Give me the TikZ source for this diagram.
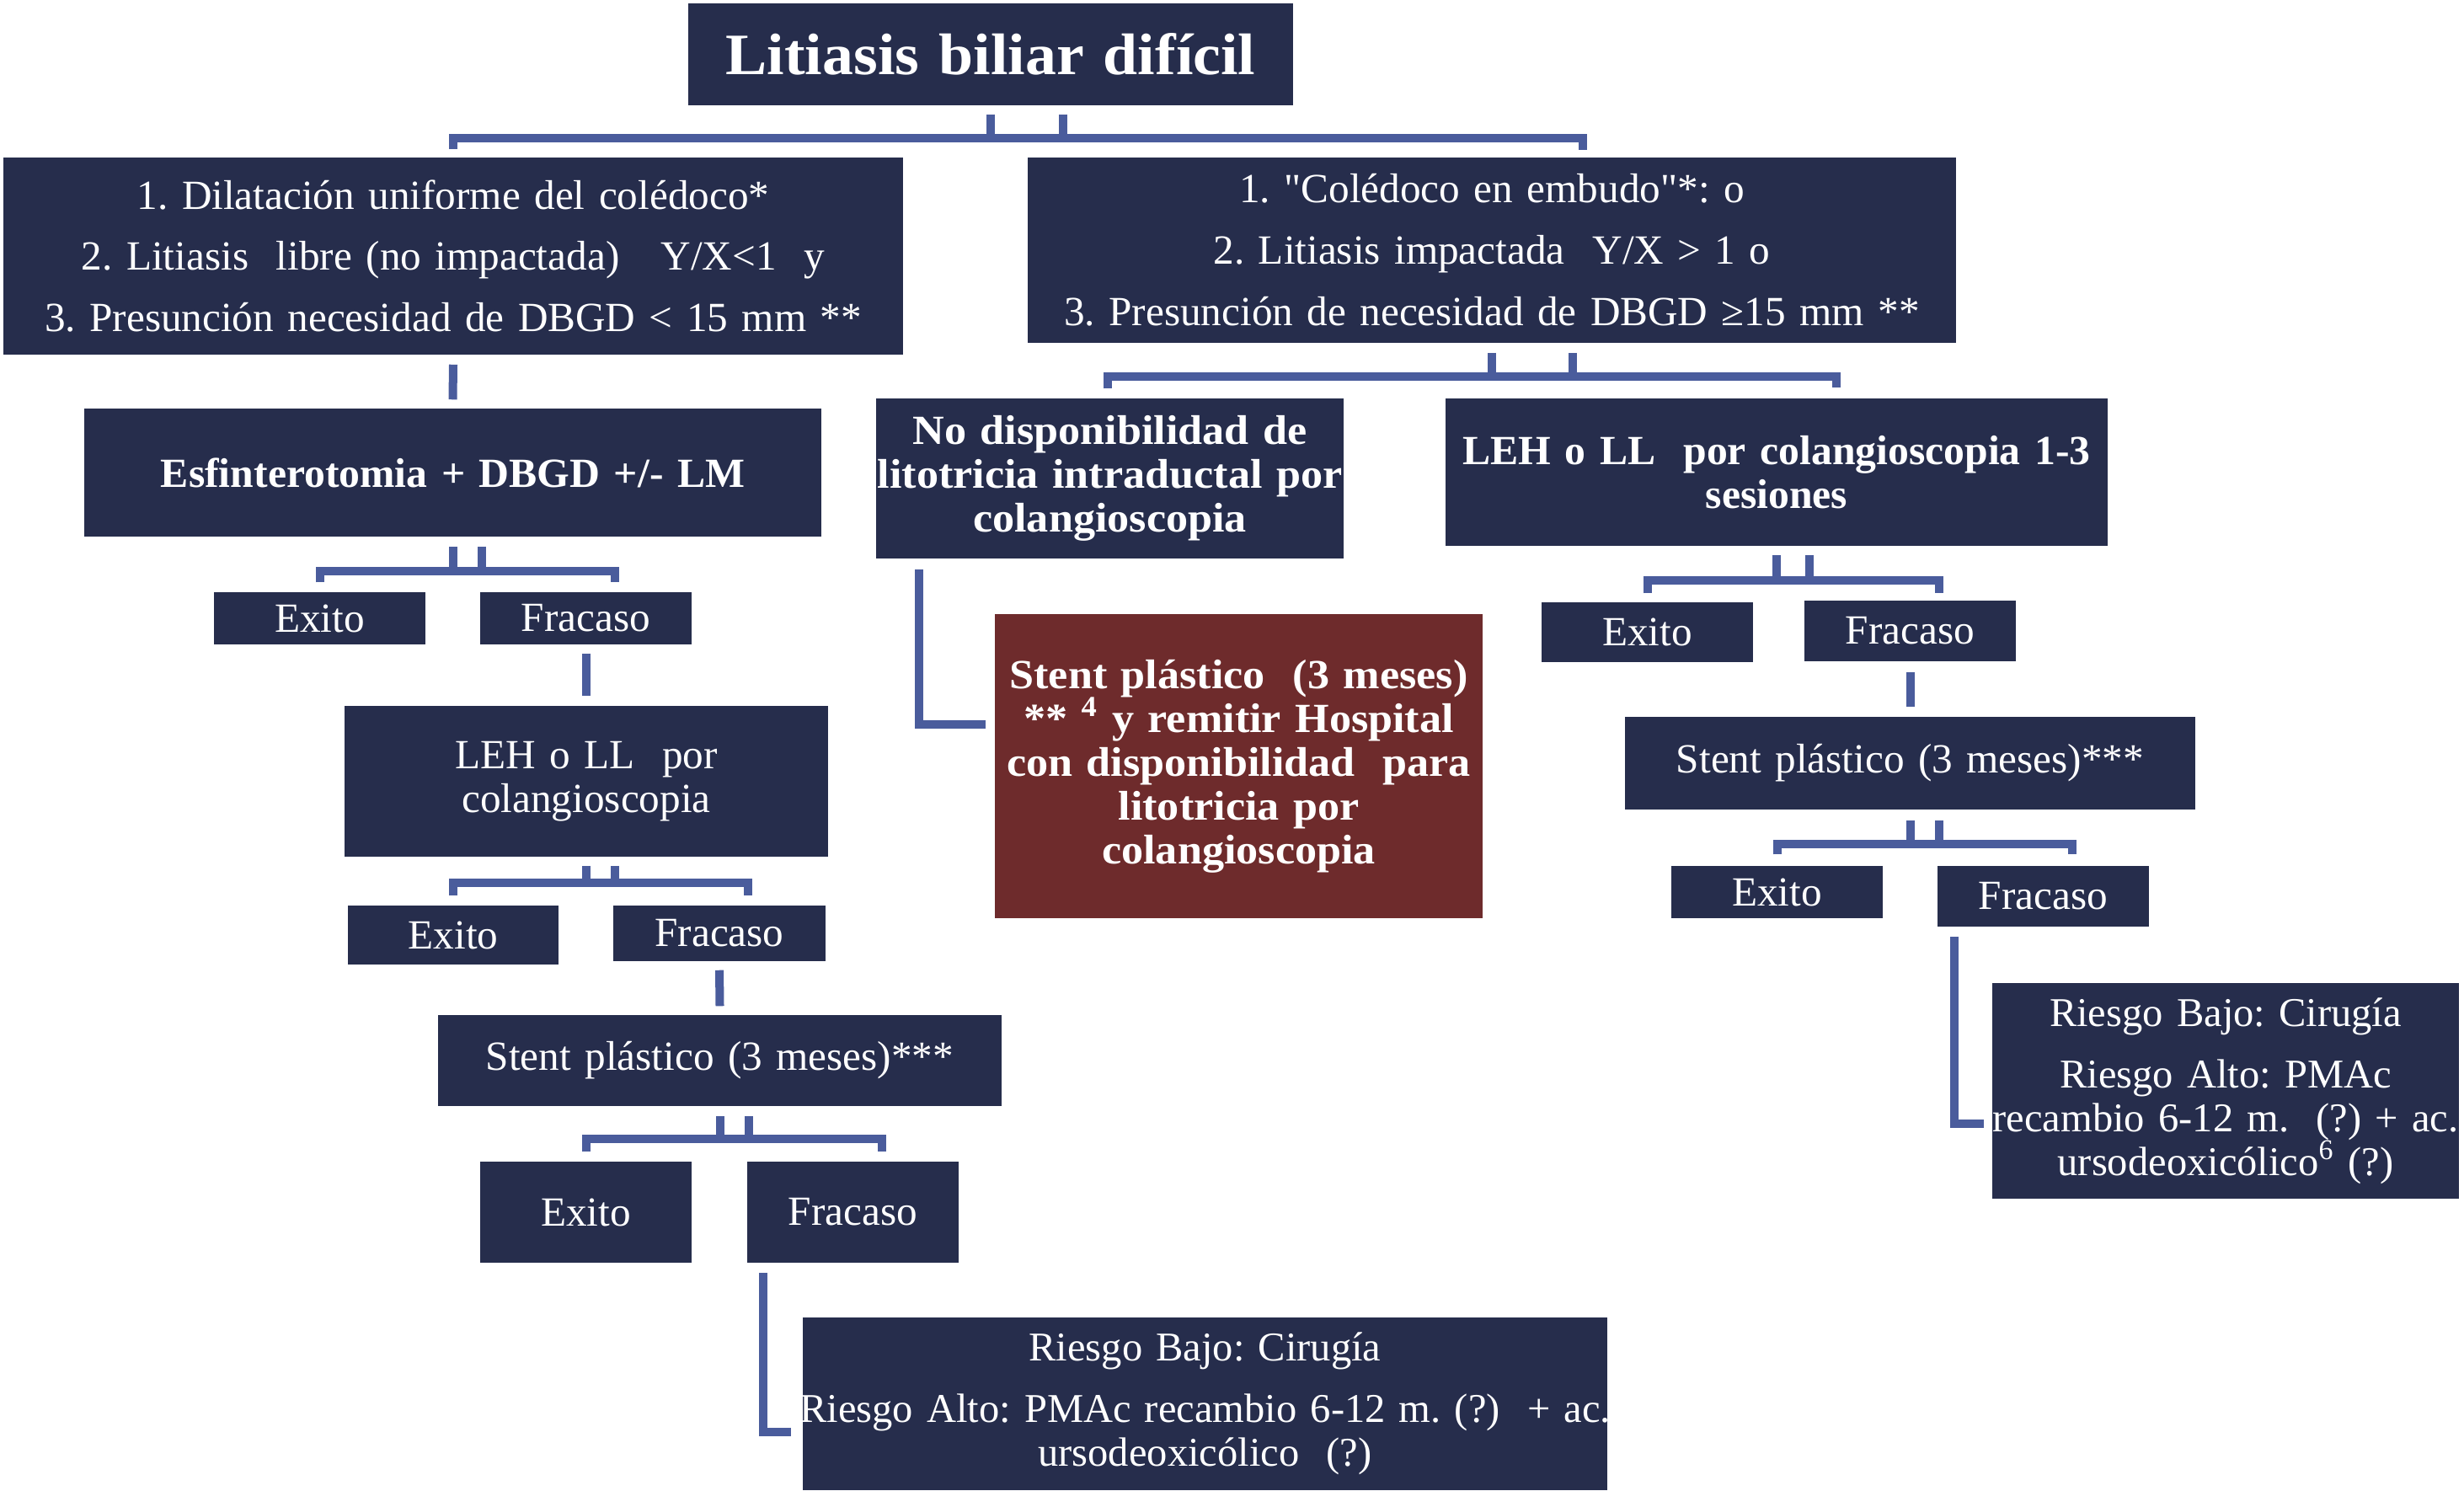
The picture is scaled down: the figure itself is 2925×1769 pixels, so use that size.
\documentclass[tikz,border=0pt]{standalone}
\usepackage{fontspec}
\newfontfamily\mainf{Liberation Serif}[BoldFeatures={FakeStretch=1.06}]
\newfontfamily\mainfN{Liberation Serif}[BoldFeatures={FakeStretch=1.01}]
\usetikzlibrary{calc}
\definecolor{navy}{RGB}{38,45,76}
\definecolor{wine}{RGB}{110,43,44}
\definecolor{lnk}{RGB}{74,92,156}
\newcommand{\fntReg}{\mainf\frenchspacing\fontsize{14}{14.8}\selectfont}
\newcommand{\fntBold}{\mainf\frenchspacing\fontsize{14}{14.8}\selectfont\bfseries}
\newcommand{\fntBoldN}{\mainfN\frenchspacing\fontsize{14}{14.8}\selectfont\bfseries}
\newcommand{\fntCrit}{\mainf\frenchspacing\fontsize{14}{20.7}\selectfont}
\newcommand{\fntRisk}{\mainf\frenchspacing\fontsize{13.8}{14.8}\selectfont}
\newcommand{\fntTitle}{\mainf\frenchspacing\fontsize{19.8}{22}\selectfont\bfseries}
\newcommand{\ctrline}[1]{\makebox[\hsize][c]{#1}}
\begin{document}
\begin{tikzpicture}[x=0.01cm,y=-0.01cm,
  box/.style={fill=navy, text=white, inner sep=0pt, align=center, font=\fntReg},
  boldbox/.style={box, font=\fntBold},
  conn/.style={draw=lnk, line width=0.1cm, line join=miter}]
\useasboundingbox (0,0) rectangle (2925,1769);

% nodes
\node[box, font=\fntTitle, text width=7.18cm, minimum height=1.21cm] (title) at (1176,64.5) {Litiasis biliar difícil};
\node[box, font=\fntCrit, text width=10.68cm, minimum height=2.34cm] (crit1) at (538,304)
  {\ctrline{1. Dilatación uniforme del colédoco*}\\\ctrline{2. Litiasis\ \ libre (no impactada)\ \ \ Y/X<1\ \ y}\\\ctrline{3. Presunción necesidad de DBGD < 15 mm **}};
\node[box, font=\fntCrit, text width=11.02cm, minimum height=2.20cm] (crit2) at (1771,297)
  {\ctrline{1. "Colédoco en embudo"*: o}\\\ctrline{2. Litiasis impactada\ \ Y/X > 1 o}\\\ctrline{3. Presunción de necesidad de DBGD ≥15 mm **}};
\node[boldbox, font=\fntBoldN, text width=8.75cm, minimum height=1.52cm] (esf) at (537.5,561) {Esfinterotomia + DBGD +/- LM};
\node[boldbox, text width=5.55cm, minimum height=1.90cm] (nodisp) at (1317.5,568)
  {\ctrline{No disponibilidad de}\\\ctrline{litotricia intraductal por}\\\ctrline{colangioscopia}};
\node[boldbox, font=\fntBoldN, text width=7.86cm, minimum height=1.75cm] (lehR) at (2109,560.5)
  {\ctrline{LEH o LL\ \ por colangioscopia 1-3}\\\ctrline{sesiones}};
\node[box, text width=2.51cm, minimum height=0.62cm] (exitoL1) at (379.5,734) {Exito};
\node[box, text width=2.51cm, minimum height=0.62cm] (fracL1) at (695.5,734) {Fracaso};
\node[boldbox, fill=wine, text width=5.79cm, minimum height=3.61cm] (red) at (1470.5,909.5)
  {\ctrline{Stent plástico\ \ (3 meses)}\\\ctrline{** \textsuperscript{4} y remitir Hospital}\\\ctrline{con disponibilidad\ \ para}\\\ctrline{litotricia por}\\\ctrline{colangioscopia}};
\node[box, text width=2.51cm, minimum height=0.71cm] (exitoR1) at (1955.5,750.5) {Exito};
\node[box, text width=2.51cm, minimum height=0.72cm] (fracR1) at (2267.5,749) {Fracaso};
\node[box, text width=5.74cm, minimum height=1.79cm] (lehL) at (696,927.5) {LEH o LL\ \ por\\colangioscopia};
\node[box, text width=6.77cm, minimum height=1.10cm] (stentR) at (2267.5,906) {Stent plástico (3 meses)***};
\node[box, text width=2.50cm, minimum height=0.70cm] (exitoL2) at (538,1110) {Exito};
\node[box, text width=2.52cm, minimum height=0.66cm] (fracL2) at (854,1108) {Fracaso};
\node[box, text width=2.51cm, minimum height=0.62cm] (exitoR2) at (2109.5,1059) {Exito};
\node[box, text width=2.51cm, minimum height=0.72cm] (fracR2) at (2425.5,1064) {Fracaso};
\node[box, text width=6.69cm, minimum height=1.08cm] (stentL) at (854.5,1259) {Stent plástico (3 meses)***};
\node[box, font=\fntRisk, text width=5.54cm, minimum height=2.56cm] (riesgoR) at (2642,1295)
  {\ctrline{Riesgo Bajo: Cirugía}\\[5.9pt]\ctrline{Riesgo Alto: PMAc}\\\ctrline{recambio 6-12 m.\ \ (?) + ac.}\\\ctrline{ursodeoxicólico\textsuperscript{6} (?)}};
\node[box, text width=2.51cm, minimum height=1.20cm] (exitoL3) at (695.5,1439) {Exito};
\node[box, text width=2.51cm, minimum height=1.20cm] (fracL3) at (1012.5,1439) {Fracaso};
\node[box, font=\fntRisk, text width=9.55cm, minimum height=2.05cm] (riesgoL) at (1430.5,1666.5)
  {\ctrline{Riesgo Bajo: Cirugía}\\[5.9pt]\ctrline{Riesgo Alto: PMAc recambio 6-12 m. (?)\ \ + ac.}\\\ctrline{ursodeoxicólico\ \ (?)}};

% C1 title -> crit1, crit2
\coordinate (b1) at ($(title.south)+(0,38)$);
\draw[conn] ($(title.south)+(0,10)$) -- (b1);
\draw[conn] ($(title.south)+(86,10)$) -- ($(b1)+(86,0)$);
\draw[conn] ($(crit1.north)+(0,-9)$) -- (crit1.north |- b1) -- ($(b1)+(703,0)$) -- ($(b1)+(703,14)$);
% C2 crit1 -> esf
\draw[conn] ($(crit1.south)+(0,11)$) -- ($(esf.north)+(0,-10)$);
% C3 crit2 -> nodisp, lehR
\coordinate (b3) at ($(crit2.south)+(0,39)$);
\draw[conn] ($(crit2.south)+(0,11)$) -- (b3);
\draw[conn] ($(crit2.south)+(96,11)$) -- ($(b3)+(96,0)$);
\draw[conn] ($(nodisp.north)+(-3,-11)$) -- ($(nodisp.north |- b3)+(-3,0)$) -- ($(lehR.north |- b3)+(71,0)$) -- ($(lehR.north)+(71,-12)$);
% C4 esf -> exitoL1, fracL1
\coordinate (b4) at ($(esf.south)+(0,40)$);
\draw[conn] ($(esf.south)+(0,11)$) -- (b4);
\draw[conn] ($(esf.south)+(34,11)$) -- ($(b4)+(34,0)$);
\draw[conn] ($(exitoL1.north)+(0,-11)$) -- (exitoL1.north |- b4) -- ($(fracL1.north |- b4)+(34.5,0)$) -- ($(fracL1.north)+(34.5,-11)$);
% C5 fracL1 -> lehL
\draw[conn] ($(fracL1.south)+(0.5,10)$) -- ($(lehL.north)+(0,-11)$);
% C6 lehL -> exitoL2, fracL2
\coordinate (b6) at ($(lehL.south)+(0,30)$);
\draw[conn] ($(lehL.south)+(0,10)$) -- (b6);
\draw[conn] ($(lehL.south)+(34,10)$) -- ($(b6)+(34,0)$);
\draw[conn] ($(exitoL2.north)+(0,-11)$) -- (exitoL2.north |- b6) -- ($(fracL2.north |- b6)+(34,0)$) -- ($(fracL2.north)+(34,-11)$);
% C7 fracL2 -> stentL
\draw[conn] ($(fracL2.south)+(0,10)$) -- ($(stentL.north)+(0,-10)$);
% C8 stentL -> exitoL3, fracL3
\coordinate (b8) at ($(stentL.south)+(0,38)$);
\draw[conn] ($(stentL.south)+(0,11)$) -- (b8);
\draw[conn] ($(stentL.south)+(34,11)$) -- ($(b8)+(34,0)$);
\draw[conn] ($(exitoL3.north)+(0,-11)$) -- (exitoL3.north |- b8) -- ($(fracL3.north |- b8)+(34.5,0)$) -- ($(fracL3.north)+(34.5,-11)$);
% C9 fracL3 -> riesgoL
\draw[conn] ($(fracL3.south west)+(20,11)$) |- ($(riesgoL.west)+(-13,33)$);
% C10 nodisp -> red
\draw[conn] ($(nodisp.south west)+(52,12)$) |- ($(red.west)+(-10,-50)$);
% C11 lehR -> exitoR1, fracR1
\coordinate (b11) at ($(lehR.south)+(0,40)$);
\draw[conn] ($(lehR.south)+(0,10)$) -- (b11);
\draw[conn] ($(lehR.south)+(39,10)$) -- ($(b11)+(39,0)$);
\draw[conn] ($(exitoR1.north)+(0,-10)$) -- (exitoR1.north |- b11) -- ($(fracR1.north |- b11)+(34.5,0)$) -- ($(fracR1.north)+(34.5,-8)$);
% C12 fracR1 -> stentR
\draw[conn] ($(fracR1.south)+(0,12)$) -- ($(stentR.north)+(0,-11)$);
% C13 stentR -> exitoR2, fracR2
\coordinate (b13) at ($(stentR.south)+(0,40)$);
\draw[conn] ($(stentR.south)+(0,12)$) -- (b13);
\draw[conn] ($(stentR.south)+(34,12)$) -- ($(b13)+(34,0)$);
\draw[conn] ($(exitoR2.north)+(0,-13)$) -- (exitoR2.north |- b13) -- ($(fracR2.north |- b13)+(34.5,0)$) -- ($(fracR2.north)+(34.5,-13)$);
% C14 fracR2 -> riesgoR
\draw[conn] ($(fracR2.south west)+(21,11)$) |- ($(riesgoR.west)+(-9,39)$);
\end{tikzpicture}
\end{document}
